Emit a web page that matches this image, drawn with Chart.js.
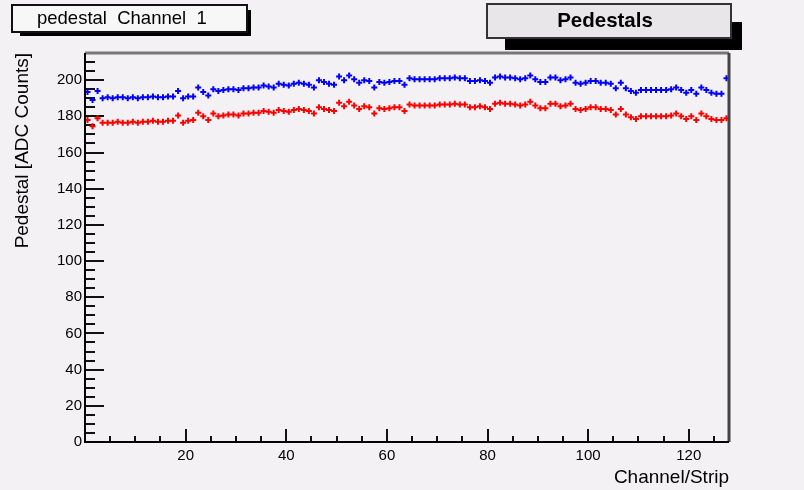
<!DOCTYPE html>
<html>
<head>
<meta charset="utf-8">
<script src="https://cdn.jsdelivr.net/npm/chart.js@4.4.0/dist/chart.umd.min.js"></script>
<style>
  html, body { margin: 0; padding: 0; background: #f4f1f4; }
  #contenedor { width: 804px; height: 490px; }
</style>
</head>
<body>
<div id="contenedor"><canvas id="grafico" width="804" height="490"></canvas></div>
<script>
// pedestal por canal (strip), canales 1..128
var pedestalAzul = [
  193.5, 189.0, 194.0, 190.0, 190.5, 190.0, 190.5, 190.5, 190.0, 190.5,
  190.0, 190.5, 190.5, 191.0, 190.5, 190.5, 191.0, 191.0, 194.0, 190.0,
  191.0, 191.0, 196.0, 193.5, 191.5, 195.0, 194.0, 194.5, 195.0, 195.0,
  194.5, 195.5, 195.5, 196.0, 196.0, 197.0, 196.5, 196.0, 198.0, 197.5,
  197.0, 198.0, 198.5, 198.0, 197.5, 196.0, 200.0, 199.0, 198.0, 197.5,
  202.0, 200.0, 202.5, 200.5, 198.5, 200.0, 199.5, 196.0, 199.0, 198.5,
  199.0, 199.5, 199.5, 197.5, 201.0, 200.5, 200.5, 200.5, 200.5, 200.5,
  201.0, 201.0, 201.0, 201.5, 201.0, 201.0, 199.5, 199.5, 200.0, 199.5,
  198.5, 201.5, 202.0, 201.5, 201.5, 201.0, 200.5, 201.0, 202.5, 200.5,
  199.0, 199.0, 201.5, 201.5, 200.0, 200.5, 201.5, 198.5, 198.0, 198.5,
  199.5, 199.5, 198.5, 198.5, 198.0, 195.5, 198.5, 195.5, 194.0, 193.0,
  194.5, 194.5, 194.5, 194.5, 194.5, 194.5, 195.0, 196.0, 194.5, 193.0,
  194.5, 192.5, 196.0, 194.5, 193.0, 192.5, 192.5, 201.0
];

var pedestalRojo = [
  178.0, 174.5, 179.0, 176.5, 176.5, 176.5, 177.0, 176.5, 176.5, 177.0,
  176.5, 177.0, 177.0, 177.5, 177.0, 177.0, 177.5, 177.5, 180.5, 176.5,
  177.5, 178.0, 182.0, 180.0, 178.0, 181.5, 180.0, 180.5, 181.0, 181.0,
  180.5, 181.5, 181.5, 182.0, 182.0, 183.0, 182.5, 182.0, 183.5, 183.0,
  182.5, 183.5, 184.0, 183.5, 183.0, 181.5, 185.0, 184.0, 183.5, 183.0,
  187.5, 185.5, 188.0, 186.0, 184.0, 185.5, 185.0, 181.5, 184.5, 184.0,
  184.5, 185.0, 185.0, 183.0, 186.5, 186.0, 186.0, 186.0, 186.0, 186.0,
  186.5, 186.5, 186.5, 187.0, 186.5, 186.5, 185.0, 185.0, 185.5, 185.0,
  184.0, 187.0, 187.5, 187.0, 187.0, 186.5, 186.0, 186.5, 188.0, 186.0,
  184.5, 184.5, 187.0, 187.0, 185.5, 186.0, 187.0, 184.0, 183.5, 184.0,
  185.0, 185.0, 184.0, 184.0, 183.5, 181.0, 184.0, 181.0, 179.5, 178.5,
  180.0, 180.0, 180.0, 180.0, 180.0, 180.0, 180.5, 181.5, 180.0, 178.5,
  180.0, 178.0, 181.5, 180.0, 178.5, 178.0, 178.0, 179.0
];

var ticksY = [0, 20, 40, 60, 80, 100, 120, 140, 160, 180, 200];
var ticksX = [20, 40, 60, 80, 100, 120];

var fuente = "'Liberation Sans', Arial, Helvetica, sans-serif";

// cada canal se dibuja en el centro de su bin
function puntos(valores) {
  var out = [];
  for (var i = 0; i < valores.length; i++) {
    out.push({ x: i + 0.5, y: valores[i] });
  }
  return out;
}

// fondo, marco, ticks hacia adentro y las cajas de texto
var marcoPlugin = {
  id: 'marco',
  beforeDraw: function (chart) {
    var ctx = chart.ctx;
    ctx.save();
    ctx.fillStyle = '#f4f1f4';
    ctx.fillRect(0, 0, chart.width, chart.height);
    ctx.restore();
  },
  beforeDatasetsDraw: function (chart) {
    var ctx = chart.ctx, a = chart.chartArea;
    var sx = chart.scales.x, sy = chart.scales.y;
    ctx.save();
    ctx.strokeStyle = '#111';
    ctx.lineWidth = 2;
    // ticks del eje y
    for (var v = 0; v <= 215; v += 5) {
      var py = Math.round(sy.getPixelForValue(v));
      var len = (v % 20 === 0) ? 19 : 10;
      ctx.beginPath();
      ctx.moveTo(a.left, py);
      ctx.lineTo(a.left + len, py);
      ctx.stroke();
    }
    // ticks del eje x
    for (var u = 5; u < 128; u += 5) {
      var px = Math.round(sx.getPixelForValue(u));
      var lx = (u % 20 === 0) ? 13 : 6;
      ctx.beginPath();
      ctx.moveTo(px, a.bottom);
      ctx.lineTo(px, a.bottom - lx);
      ctx.stroke();
    }
    ctx.restore();
  },
  afterDraw: function (chart) {
    var ctx = chart.ctx, a = chart.chartArea;
    ctx.save();
    // marco: arriba y derecha gris, ejes negros
    ctx.lineWidth = 3;
    ctx.strokeStyle = '#777';
    ctx.beginPath();
    ctx.moveTo(a.left, a.top);
    ctx.lineTo(a.right, a.top);
    ctx.stroke();
    ctx.strokeStyle = '#444';
    ctx.beginPath();
    ctx.moveTo(a.right, a.top);
    ctx.lineTo(a.right, a.bottom);
    ctx.stroke();
    ctx.lineWidth = 2;
    ctx.strokeStyle = '#000';
    ctx.beginPath();
    ctx.moveTo(a.left, a.top);
    ctx.lineTo(a.left, a.bottom);
    ctx.lineTo(a.right, a.bottom);
    ctx.stroke();

    // caja del histograma
    ctx.fillStyle = '#000';
    ctx.fillRect(20, 10, 231, 26);
    ctx.fillStyle = '#f8f7f8';
    ctx.fillRect(12, 5, 235, 27);
    ctx.strokeStyle = '#111';
    ctx.lineWidth = 2;
    ctx.strokeRect(12, 5, 235, 27);
    ctx.fillStyle = '#000';
    ctx.font = '18.5px ' + fuente;
    ctx.textAlign = 'left';
    ctx.textBaseline = 'middle';
    ctx.fillText('pedestal  Channel  1', 37, 19);

    // caja del titulo
    ctx.fillStyle = '#000';
    ctx.fillRect(505, 22, 237, 28);
    ctx.fillStyle = '#e8e6e8';
    ctx.fillRect(487, 4, 244, 34);
    ctx.strokeStyle = '#333';
    ctx.strokeRect(487, 4, 244, 34);
    ctx.fillStyle = '#000';
    ctx.font = 'bold 20.5px ' + fuente;
    ctx.textAlign = 'center';
    ctx.fillText('Pedestals', 605, 21);
    ctx.restore();
  }
};

var ctx = document.getElementById('grafico').getContext('2d');
var grafico = new Chart(ctx, {
  type: 'scatter',
  data: {
    datasets: [{
      label: 'Pedestal A',
      data: puntos(pedestalAzul),
      borderColor: '#0000ff',
      backgroundColor: '#0000ff',
      pointStyle: 'cross',
      pointRadius: 3,
      borderWidth: 2
    }, {
      label: 'Pedestal B',
      data: puntos(pedestalRojo),
      borderColor: '#ff0000',
      backgroundColor: '#ff0000',
      pointStyle: 'cross',
      pointRadius: 3,
      borderWidth: 2
    }]
  },
  options: {
    responsive: false,
    animation: false,
    devicePixelRatio: 1,
    layout: { padding: { top: 53, right: 75, left: 0, bottom: 0 } },
    plugins: {
      legend: { display: false },
      tooltip: { enabled: false }
    },
    scales: {
      x: {
        type: 'linear',
        min: 0,
        max: 128,
        grid: { display: false, drawTicks: false },
        border: { display: false },
        afterBuildTicks: function (scale) {
          scale.ticks = ticksX.map(function (v) { return { value: v }; });
        },
        afterFit: function (scale) { scale.height = 48; },
        ticks: {
          color: '#000',
          padding: 5,
          maxRotation: 0,
          font: { family: fuente, size: 15 }
        },
        title: {
          display: true,
          text: 'Channel/Strip',
          align: 'end',
          color: '#000',
          padding: { top: 0, bottom: 1 },
          font: { family: fuente, size: 19 }
        }
      },
      y: {
        min: 0,
        max: 215,
        grid: { display: false, drawTicks: false },
        border: { display: false },
        afterBuildTicks: function (scale) {
          scale.ticks = ticksY.map(function (v) { return { value: v }; });
        },
        afterFit: function (scale) { scale.width = 85; },
        ticks: {
          color: '#000',
          padding: 3,
          font: { family: fuente, size: 15 }
        },
        title: {
          display: true,
          text: 'Pedestal [ADC Counts]',
          align: 'end',
          color: '#000',
          padding: { top: 11, bottom: 0 },
          font: { family: fuente, size: 19 }
        }
      }
    }
  },
  plugins: [marcoPlugin]
});
</script>
</body>
</html>
